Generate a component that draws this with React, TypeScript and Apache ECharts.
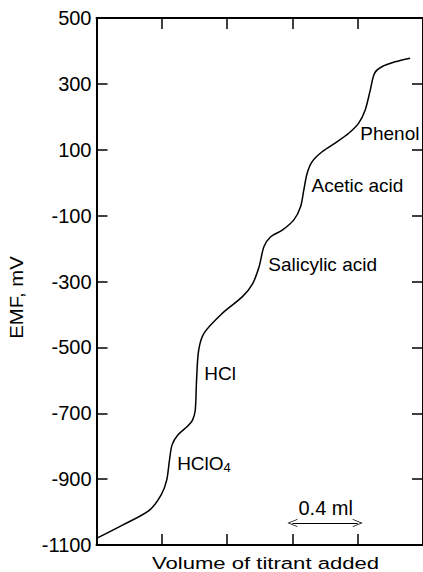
import React, { useEffect, useRef } from "react";
import * as echarts from "echarts";

const volume = [0, 0.162, 0.325, 0.396, 0.43, 0.447, 0.463, 0.498, 0.559, 0.589, 0.605, 0.613, 0.626, 0.66, 0.772, 0.894, 0.955, 0.996, 1.026, 1.067, 1.138, 1.209, 1.25, 1.27, 1.29, 1.321, 1.382, 1.473, 1.545, 1.605, 1.646, 1.677, 1.703, 1.748, 1.829, 1.921];
const emf = [-1080, -1039, -994, -948, -903, -842, -796, -766, -739, -720, -690, -599, -508, -456, -396, -346, -308, -255, -194, -164, -144, -113, -73, -22, 28, 64, 94, 124, 150, 180, 221, 281, 332, 352, 367, 378];

const labelNames = ["Phenol", "Acetic acid", "Salicylic acid", "HCl", "HClO{sub|4}"];
const labelX = [1.616, 1.317, 1.052, 0.66, 0.494];
const labelY = [148, -10, -247, -580, -854];

const scaleText = "0.4 ml";
const scaleTextPos = [1.404, -988];
const scaleArrow = [[1.2, -1033], [1.6, -1033]];

const yMin = -1100;
const yMax = 500;
const yStep = 200;
const xMin = 0;
const xMax = 2.0;
const xStep = 0.4;

const yName = "EMF, mV";
const xName = "Volume of titrant added";

const FONT = "'Liberation Sans', Arial, sans-serif";

export default function App() {
  const ref = useRef<HTMLDivElement>(null);
  useEffect(() => {
    if (!ref.current) return;
    const chart = echarts.init(ref.current, undefined, { renderer: "svg" });
    const axisLine = { show: true, onZero: false, lineStyle: { color: "#000", width: 2 } };
    const axisTick = { show: true, inside: true, length: 11, lineStyle: { color: "#000", width: 1.5 } };
    const chevron = "path://M5,0 L10,10 L9,10 L5,2 L1,10 L0,10 Z";
    chart.setOption({
      animation: false,
      backgroundColor: "#fff",
      textStyle: { fontFamily: FONT },
      grid: { left: 96.5, right: -2, top: 18, bottom: 27 },
      xAxis: [
        {
          type: "value", min: xMin, max: xMax, interval: xStep, position: "bottom",
          axisLine, axisTick, axisLabel: { show: false }, splitLine: { show: false },
        },
        {
          type: "value", min: xMin, max: xMax, interval: xStep, position: "top",
          axisLine, axisTick, axisLabel: { show: false }, splitLine: { show: false },
        },
      ],
      yAxis: [
        {
          type: "value", min: yMin, max: yMax, interval: yStep, position: "left",
          axisLine, axisTick, splitLine: { show: false },
          axisLabel: { color: "#000", fontSize: 20, fontFamily: FONT, margin: 5, formatter: (v: number) => String(v) },
        },
        {
          type: "value", min: yMin, max: yMax, interval: yStep, position: "right",
          axisLine, axisTick, axisLabel: { show: false }, splitLine: { show: false },
        },
      ],
      graphic: [
        {
          type: "text", x: 17, y: 297.5, rotation: Math.PI / 2, scaleX: 1.13,
          style: { text: yName, fill: "#000", font: `18px ${FONT}`, align: "center", verticalAlign: "middle" },
        },
        {
          type: "text", x: 265.5, y: 562.5, scaleX: 1.3,
          style: { text: xName, fill: "#000", font: `17px ${FONT}`, align: "center", verticalAlign: "middle" },
        },
      ],
      series: [
        {
          type: "line",
          data: volume.map((v, i) => [v, emf[i]]),
          smooth: 0.3,
          symbol: "none",
          lineStyle: { color: "#000", width: 1.5 },
          markPoint: {
            symbol: "circle",
            symbolSize: 0,
            data: [
              ...labelNames.map((n, i) => ({
                coord: [labelX[i], labelY[i]],
                label: {
                  show: true, position: "right", distance: 0, formatter: n,
                  color: "#000", fontSize: 19, fontFamily: FONT,
                  rich: { sub: { fontSize: 13, verticalAlign: "bottom", padding: [8, 0, 0, 0], fontFamily: FONT, color: "#000" } },
                },
              })),
              {
                coord: scaleTextPos,
                label: { show: true, position: "inside", formatter: scaleText, color: "#000", fontSize: 20, fontFamily: FONT },
              },
            ],
          },
          markLine: {
            silent: true,
            symbol: [chevron, chevron],
            symbolSize: [8, 10],
            label: { show: false },
            lineStyle: { color: "#000", width: 1.2, type: "solid" },
            data: [[{ coord: scaleArrow[0] }, { coord: scaleArrow[1] }]],
          },
        },
      ],
    });
    return () => chart.dispose();
  }, []);
  return <div ref={ref} style={{ position: "absolute", left: 0, top: 0, width: 423, height: 572 }} />;
}
